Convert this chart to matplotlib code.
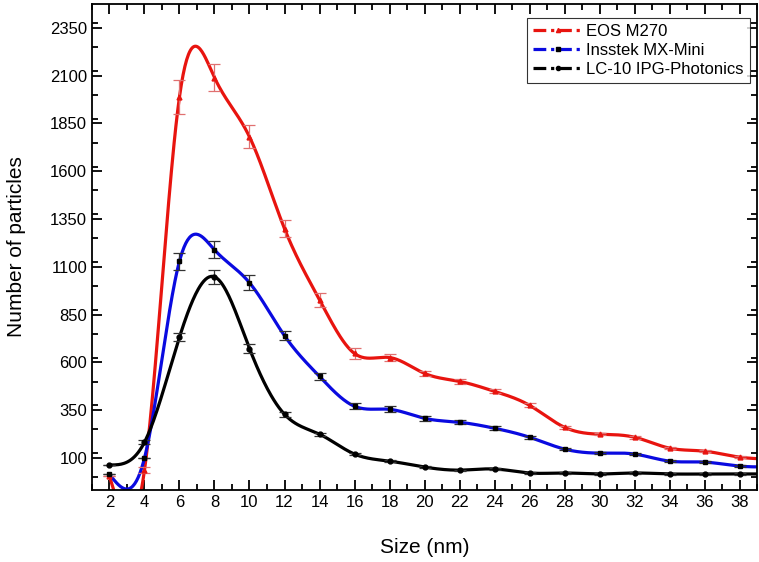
import numpy as np
import matplotlib.pyplot as plt
from matplotlib.ticker import MultipleLocator

plt.rcParams['font.family'] = ['Liberation Sans', 'DejaVu Sans']

# data
size = [2, 4, 6, 8, 10, 12, 14, 16, 18, 20, 22, 24, 26, 28, 30, 32, 34, 36, 38, 40]

eos = [5, 37, 1990, 2090, 1780, 1300, 928, 647, 626, 543, 501, 449, 376, 261, 225, 209, 152, 136, 105, 95]
eos_err = [0, 14, 90, 70, 60, 45, 36, 30, 20, 15, 12, 10, 10, 8, 6, 8, 6, 6, 6, 0]

insstek = [15, 100, 1130, 1189, 1017, 740, 527, 371, 355, 308, 287, 256, 209, 147, 126, 121, 84, 79, 58, 55]
insstek_err = [0, 0, 45, 45, 40, 25, 20, 15, 15, 12, 10, 10, 8, 6, 5, 5, 5, 4, 4, 0]

lc10 = [64, 183, 733, 1048, 673, 329, 225, 121, 84, 53, 37, 43, 22, 22, 17, 22, 17, 17, 17, 17]
lc10_err = [0, 10, 22, 35, 25, 12, 8, 5, 4, 3, 3, 3, 3, 3, 3, 3, 3, 3, 3, 0]


def natural_spline(x, y, n=40):
    # smooth connecting line through the points (natural cubic spline)
    x = np.asarray(x, float)
    y = np.asarray(y, float)
    k = len(x)
    h = np.diff(x)
    A = np.zeros((k, k))
    b = np.zeros(k)
    A[0, 0] = A[-1, -1] = 1
    for i in range(1, k - 1):
        A[i, i - 1] = h[i - 1]
        A[i, i] = 2 * (h[i - 1] + h[i])
        A[i, i + 1] = h[i]
        b[i] = 3 * ((y[i + 1] - y[i]) / h[i] - (y[i] - y[i - 1]) / h[i - 1])
    c = np.linalg.solve(A, b)
    xs, ys = [], []
    for i in range(k - 1):
        t = np.linspace(0, h[i], n)
        bb = (y[i + 1] - y[i]) / h[i] - h[i] * (2 * c[i] + c[i + 1]) / 3
        d = (c[i + 1] - c[i]) / (3 * h[i])
        xs.append(x[i] + t)
        ys.append(y[i] + bb * t + c[i] * t**2 + d * t**3)
    return np.concatenate(xs), np.concatenate(ys)


fig = plt.figure(figsize=(7.59, 5.62), dpi=100)
ax = fig.add_axes([0.1212, 0.1281, 0.8762, 0.8648])

series = [
    (eos, eos_err, '#e8140f', '^', '#e8140f', '#e07070', 'EOS M270'),
    (insstek, insstek_err, '#0a0ae0', 's', 'black', '#333333', 'Insstek MX-Mini'),
    (lc10, lc10_err, 'black', 'o', 'black', '#333333', 'LC-10 IPG-Photonics'),
]

handles = []
for vals, err, col, mk, mcol, ecol, name in series:
    xs, ys = natural_spline(size, vals)
    ax.plot(xs, ys, color=col, lw=2.3, zorder=2)
    ax.errorbar(size, vals, yerr=err, fmt='none', ecolor=ecol, elinewidth=0.9,
                capsize=4.5, capthick=0.9, zorder=3)
    ax.plot(size, vals, ls='none', marker=mk, ms=3.5, color=mcol, zorder=4)
    h, = ax.plot([], [], color=col, lw=2.3, ls=(0, (4, 1.5, 1, 1.5)),
                 marker=mk, ms=3, mfc=mcol, mec=mcol, label=name)
    handles.append(h)

ax.set_xlim(1, 39)
ax.set_ylim(-67, 2475)
ax.xaxis.set_major_locator(MultipleLocator(2))
ax.xaxis.set_minor_locator(MultipleLocator(1))
ax.set_yticks(np.arange(100, 2351, 250))
ax.yaxis.set_minor_locator(MultipleLocator(125))
ax.yaxis.set_minor_formatter(plt.NullFormatter())
ax.tick_params(which='both', direction='in', top=True, right=True, width=1.3, labelsize=12)
ax.tick_params(which='major', length=7)
ax.tick_params(which='minor', length=4)
for s in ax.spines.values():
    s.set_linewidth(1.3)

ax.set_xlabel('Size (nm)', fontsize=15, labelpad=20)
ax.set_ylabel('Number of particles', fontsize=15, labelpad=17)

leg = ax.legend(handles=handles, loc='upper right', bbox_to_anchor=(0.989, 0.971),
                borderaxespad=0, fontsize=12, frameon=True, fancybox=False,
                edgecolor='black', handlelength=3.0, borderpad=0.35,
                labelspacing=0.25, handletextpad=0.2)
leg.get_frame().set_linewidth(0.8)

fig.savefig('out.png', dpi=100)
